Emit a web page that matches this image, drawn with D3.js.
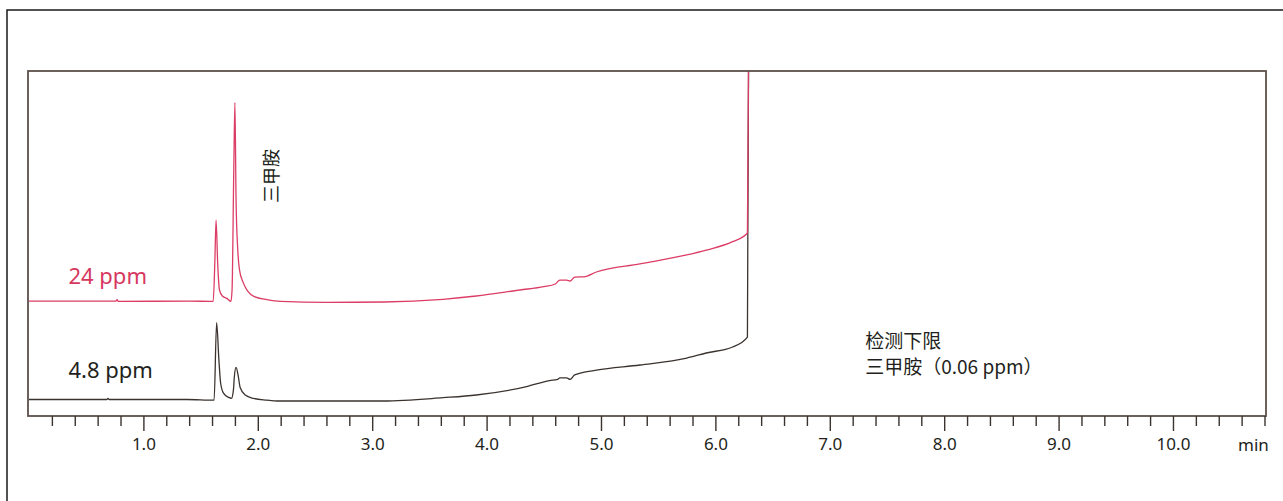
<!DOCTYPE html>
<html>
<head>
<meta charset="utf-8">
<script src="https://cdn.jsdelivr.net/npm/d3@7"></script>
<style>
  body { margin: 0; background: #fff; }
  #wrapper svg { display: block; }
</style>
</head>
<body>
<div id="wrapper"></div>
<script>
// retention time (min) and detector signal for the 24 ppm standard
const times24 = [0.00, 0.76, 0.77, 0.78, 1.40, 1.61, 1.625, 1.635, 1.65, 1.665, 1.69, 1.73, 1.765, 1.775, 1.79, 1.80, 1.81, 1.825, 1.84, 1.87, 1.91, 1.97, 2.08, 2.20, 2.60, 3.10, 3.62, 3.91, 4.29, 4.50, 4.60, 4.64, 4.70, 4.73, 4.77, 4.85, 4.96, 5.34, 5.75, 5.92, 6.15, 6.28, 6.29];
const signal24 = [38.3, 38.3, 38.8, 38.2, 38.3, 38.2, 52.0, 65.3, 50.3, 42.0, 40.0, 39.2, 38.2, 42.0, 82.0, 104.5, 72.0, 55.3, 48.7, 44.7, 41.7, 39.8, 38.8, 38.2, 37.9, 38.0, 38.9, 40.0, 42.0, 43.1, 44.0, 45.3, 45.3, 45.0, 46.3, 46.4, 48.0, 50.7, 53.7, 55.3, 58.1, 61.0, 118];

// retention time (min) and detector signal for the 4.8 ppm standard
const times48 = [0.00, 0.68, 0.69, 0.70, 1.38, 1.618, 1.64, 1.66, 1.675, 1.70, 1.745, 1.77, 1.787, 1.795, 1.81, 1.83, 1.845, 1.89, 1.96, 2.08, 2.17, 3.10, 3.62, 3.91, 4.35, 4.55, 4.62, 4.64, 4.70, 4.73, 4.77, 4.96, 5.34, 5.75, 5.92, 6.15, 6.28, 6.29];
const signal48 = [5.5, 5.5, 5.9, 5.5, 5.5, 5.3, 31.1, 18.7, 11.0, 7.6, 6.2, 5.9, 8.7, 13.1, 16.2, 13.1, 9.6, 7.0, 5.9, 5.3, 5.0, 5.0, 6.1, 7.0, 9.8, 11.8, 12.2, 12.7, 12.7, 12.2, 13.7, 15.3, 17.0, 19.3, 21.0, 23.0, 26.3, 118];

// axis ticks
const majorTicks = [1, 2, 3, 4, 5, 6, 7, 8, 9, 10];
const tickLabels = ["1.0", "2.0", "3.0", "4.0", "5.0", "6.0", "7.0", "8.0", "9.0", "10.0"];
const axisUnit = "min";

// annotations
const seriesLabels = ["24 ppm", "4.8 ppm"];
const peakName = "三甲胺";
const noteLines = ["检测下限", "三甲胺（0.06 ppm）"];

function drawChromatogram() {
  //1. Build datasets from the arrays
  const data24 = times24.map((t, i) => ({ t: t, v: signal24[i] }));
  const data48 = times48.map((t, i) => ({ t: t, v: signal48[i] }));

  const xAccessor = (d) => d.t;
  const yAccessor = (d) => d.v;

  //2. Dimensions
  let dimensions = {
    width: 1283,
    height: 501,
    margin: {
      top: 71,
      right: 18.5,
      bottom: 85,
      left: 29,
    },
  };
  dimensions.boundedWidth =
    dimensions.width - dimensions.margin.left - dimensions.margin.right;
  dimensions.boundedHeight =
    dimensions.height - dimensions.margin.top - dimensions.margin.bottom;

  //3. Draw canvas
  const wrapper = d3
    .select("#wrapper")
    .append("svg")
    .attr("width", dimensions.width)
    .attr("height", dimensions.height);

  // outer frame (only top and left edges are inside the picture)
  wrapper
    .append("path")
    .attr("d", "M7,501V10H1283")
    .attr("fill", "none")
    .attr("stroke", "#1a1a1a")
    .attr("stroke-width", 1.5);

  //4. Bounds
  const bounds = wrapper
    .append("g")
    .attr("transform", `translate(${dimensions.margin.left},${dimensions.margin.top})`);

  //5. Scales
  const xScale = d3
    .scaleLinear()
    .domain([0, 10.8])
    .range([0, dimensions.boundedWidth]);

  const yScale = d3
    .scaleLinear()
    .domain([0, 115])
    .range([dimensions.boundedHeight, 0]);

  bounds
    .append("clipPath")
    .attr("id", "plot-clip")
    .append("rect")
    .attr("x", 0)
    .attr("y", 0)
    .attr("width", dimensions.boundedWidth)
    .attr("height", dimensions.boundedHeight);

  //6. Lines
  const lineGenerator = d3
    .line()
    .x((d) => xScale(xAccessor(d)))
    .y((d) => yScale(yAccessor(d)))
    .curve(d3.curveMonotoneX);

  const traces = bounds.append("g").attr("clip-path", "url(#plot-clip)");

  traces
    .append("path")
    .attr("d", lineGenerator(data48))
    .attr("fill", "none")
    .attr("stroke", "#3b332f")
    .attr("stroke-width", 1.3);

  traces
    .append("path")
    .attr("d", lineGenerator(data24))
    .attr("fill", "none")
    .attr("stroke", "#dc3d66")
    .attr("stroke-width", 1.3);

  //7. Plot box
  bounds
    .append("rect")
    .attr("x", xScale(0) - 1)
    .attr("y", 0)
    .attr("width", xScale(10.8) - xScale(0) + 2.5)
    .attr("height", dimensions.boundedHeight)
    .attr("fill", "none")
    .attr("stroke", "#5c504a")
    .attr("stroke-width", 1.8);

  //8. X axis: minor ticks every 0.2 min, major ticks every minute
  const minorTicks = d3.range(1, 55).map((i) => i / 5).filter((t) => Math.abs(t - Math.round(t)) > 1e-6);

  const minorAxis = d3.axisBottom(xScale)
    .tickValues(minorTicks)
    .tickSize(10)
    .tickSizeOuter(0)
    .tickFormat("");

  const majorAxis = d3.axisBottom(xScale)
    .tickValues(majorTicks)
    .tickSize(15)
    .tickSizeOuter(0)
    .tickPadding(7)
    .tickFormat((d, i) => tickLabels[i]);

  const xAxisMinor = bounds
    .append("g")
    .attr("transform", `translate(0,${dimensions.boundedHeight})`)
    .call(minorAxis);

  const xAxis = bounds
    .append("g")
    .attr("transform", `translate(0,${dimensions.boundedHeight})`)
    .call(majorAxis);

  [xAxisMinor, xAxis].forEach((ax) => {
    ax.select(".domain").remove();
    ax.selectAll(".tick line").attr("stroke", "#3b332f").attr("stroke-width", 1.4);
  });

  xAxis
    .selectAll(".tick text")
    .attr("fill", "#231f20")
    .style("font-family", "Noto Sans, sans-serif")
    .style("font-size", "17px");

  bounds
    .append("text")
    .attr("x", xScale(10.8) - 11)
    .attr("y", dimensions.boundedHeight + 34.5)
    .attr("text-anchor", "middle")
    .attr("fill", "#231f20")
    .style("font-family", "Noto Sans, sans-serif")
    .style("font-size", "17px")
    .text(axisUnit);

  //9. Labels
  bounds
    .append("text")
    .attr("x", xScale(0.345))
    .attr("y", yScale(44))
    .attr("fill", "#d6375e")
    .style("font-family", "Noto Sans, sans-serif")
    .style("font-size", "22px")
    .text(seriesLabels[0]);

  bounds
    .append("text")
    .attr("x", xScale(0.345))
    .attr("y", yScale(12.7))
    .attr("fill", "#231f20")
    .style("font-family", "Noto Sans, sans-serif")
    .style("font-size", "22px")
    .text(seriesLabels[1]);

  bounds
    .append("text")
    .attr("transform", `translate(${xScale(2.12) + 6},${yScale(80)}) rotate(-90)`)
    .attr("text-anchor", "middle")
    .attr("fill", "#231f20")
    .style("font-family", "Noto Sans CJK SC, sans-serif")
    .style("font-size", "18px")
    .text(peakName);

  const note = bounds
    .append("text")
    .attr("fill", "#231f20")
    .style("font-family", "Noto Sans CJK SC, sans-serif")
    .style("font-size", "19px");

  note
    .append("tspan")
    .attr("x", xScale(7.31))
    .attr("y", yScale(22.7))
    .text(noteLines[0]);

  note
    .append("tspan")
    .attr("x", xScale(7.31))
    .attr("y", yScale(14))
    .text(noteLines[1]);
}

drawChromatogram();
</script>
</body>
</html>
